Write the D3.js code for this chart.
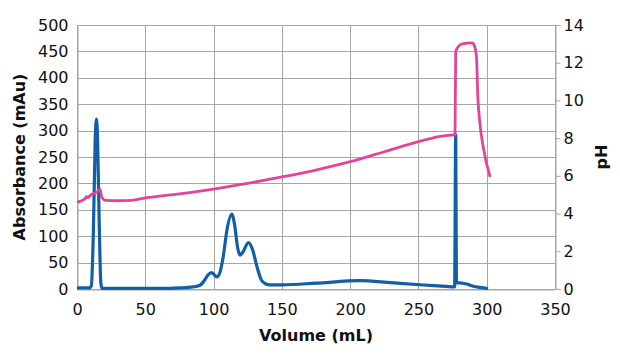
<!DOCTYPE html>
<html>
<head>
<meta charset="utf-8">
<script src="https://cdn.jsdelivr.net/npm/d3@7"></script>
<style>
  html, body { margin: 0; padding: 0; background: #fff; }
  svg { display: block; font-family: "DejaVu Sans", Verdana, sans-serif; }
</style>
</head>
<body>
<svg id="chart" width="620" height="355"></svg>
<script>
// ---- data ----
const volumeTicks = [0, 50, 100, 150, 200, 250, 300, 350];
const absTicks = [0, 50, 100, 150, 200, 250, 300, 350, 400, 450, 500];
const phTicks = [0, 2, 4, 6, 8, 10, 12, 14];

const absVolume = [0, 5, 9, 10.5, 12, 13.3, 14.2, 15, 16.3, 17.5, 18.5, 30, 60, 75, 85, 90, 93.5, 96, 98.6, 100.5, 102.3, 104.5, 107, 110, 113.3, 115.5, 117.5, 119.3, 121.5, 125.5, 128.5, 131.5, 135, 138, 141, 150, 175, 207, 230, 251, 270, 276.5, 277.3, 277.8, 282, 286, 289, 295, 301];
const absValue  = [2, 2, 2, 6, 110, 280, 322, 290, 120, 10, 1, 1, 1, 2, 4, 7, 17, 27, 31, 27, 23, 30, 60, 115, 142, 120, 80, 64, 70, 88, 75, 45, 17, 10, 8, 8, 11, 16, 12, 8, 5, 4, 292, 12, 11, 9, 6, 3, 1];

const phVolume = [0, 2, 4.6, 6, 7, 8, 9.5, 10.5, 12, 14.4, 16.8, 18, 19.5, 21, 30, 40, 50, 75, 100, 125, 150, 175, 200, 225, 250, 265, 272, 276.8, 277.3, 279, 282, 289.5, 291, 292.5, 293.5, 295, 297.5, 302.5];
const phValue  = [4.6, 4.65, 4.72, 4.8, 4.9, 4.85, 4.95, 5.0, 5.05, 5.14, 5.29, 4.9, 4.75, 4.7, 4.68, 4.7, 4.83, 5.05, 5.3, 5.6, 5.94, 6.31, 6.75, 7.28, 7.81, 8.08, 8.15, 8.18, 12.57, 12.83, 13.0, 13.05, 12.9, 12.3, 10.2, 8.8, 7.5, 5.94];

// ---- layout ----
const svg = d3.select("#chart");
const W = 620, H = 355;
const m = { left: 77, right: 555, top: 25, bottom: 289 };
const gridColor = "#a6a6a6";
const blue = "#135fa6", pink = "#e2449b";
const textColor = "#111";

svg.append("rect").attr("width", W).attr("height", H).attr("fill", "#fff");

const x = d3.scaleLinear().domain([0, 350]).range([m.left, m.right]);
const yA = d3.scaleLinear().domain([0, 500]).range([m.bottom, m.top]);
const yP = d3.scaleLinear().domain([0, 14]).range([m.bottom, m.top]);

// gridlines
svg.append("g").selectAll("line").data(absTicks).join("line")
  .attr("x1", m.left).attr("x2", m.right)
  .attr("y1", d => Math.round(yA(d)) + 0.5).attr("y2", d => Math.round(yA(d)) + 0.5)
  .attr("stroke", gridColor).attr("stroke-width", 1);
svg.append("g").selectAll("line").data(volumeTicks).join("line")
  .attr("y1", m.top).attr("y2", m.bottom)
  .attr("x1", d => Math.round(x(d)) + 0.5).attr("x2", d => Math.round(x(d)) + 0.5)
  .attr("stroke", gridColor).attr("stroke-width", 1);

// axes
const fs = 16;
const gx = svg.append("g").attr("transform", `translate(0,${m.bottom + 0.5})`)
  .call(d3.axisBottom(x).tickValues(volumeTicks).tickSize(0).tickPadding(14));
const gy = svg.append("g").attr("transform", `translate(${m.left + 0.5},0)`)
  .call(d3.axisLeft(yA).tickValues(absTicks).tickSize(0).tickPadding(9));
const gp = svg.append("g").attr("transform", `translate(${m.right + 0.5},0)`)
  .call(d3.axisRight(yP).tickValues(phTicks).tickSize(5).tickPadding(3));
[gx, gy, gp].forEach(g => {
  g.select(".domain").attr("stroke", gridColor);
  g.selectAll(".tick line").attr("stroke", gridColor);
  g.selectAll("text").attr("font-size", fs).attr("fill", textColor)
    .attr("font-family", "DejaVu Sans, Verdana, sans-serif");
});

// lines
const lineA = d3.line().x((d, i) => x(absVolume[i])).y(d => yA(d)).curve(d3.curveMonotoneX);
const lineP = d3.line().x((d, i) => x(phVolume[i])).y(d => yP(d)).curve(d3.curveMonotoneX);
svg.append("path").attr("d", lineA(absValue)).attr("fill", "none")
  .attr("stroke", blue).attr("stroke-width", 3.2).attr("stroke-linejoin", "round");
svg.append("path").attr("d", lineP(phValue)).attr("fill", "none")
  .attr("stroke", pink).attr("stroke-width", 2.8).attr("stroke-linejoin", "round");

// titles
svg.append("text").attr("x", 316).attr("y", 341)
  .attr("text-anchor", "middle").attr("font-weight", "bold").attr("font-size", fs)
  .attr("fill", textColor).text("Volume (mL)");
svg.append("text").attr("transform", `translate(25,${(m.top + m.bottom) / 2}) rotate(-90)`)
  .attr("text-anchor", "middle").attr("font-weight", "bold").attr("font-size", fs)
  .attr("fill", textColor).text("Absorbance (mAu)");
svg.append("text").attr("transform", `translate(607,${(m.top + m.bottom) / 2}) rotate(-90)`)
  .attr("text-anchor", "middle").attr("font-weight", "bold").attr("font-size", fs)
  .attr("fill", textColor).text("pH");
</script>
</body>
</html>
